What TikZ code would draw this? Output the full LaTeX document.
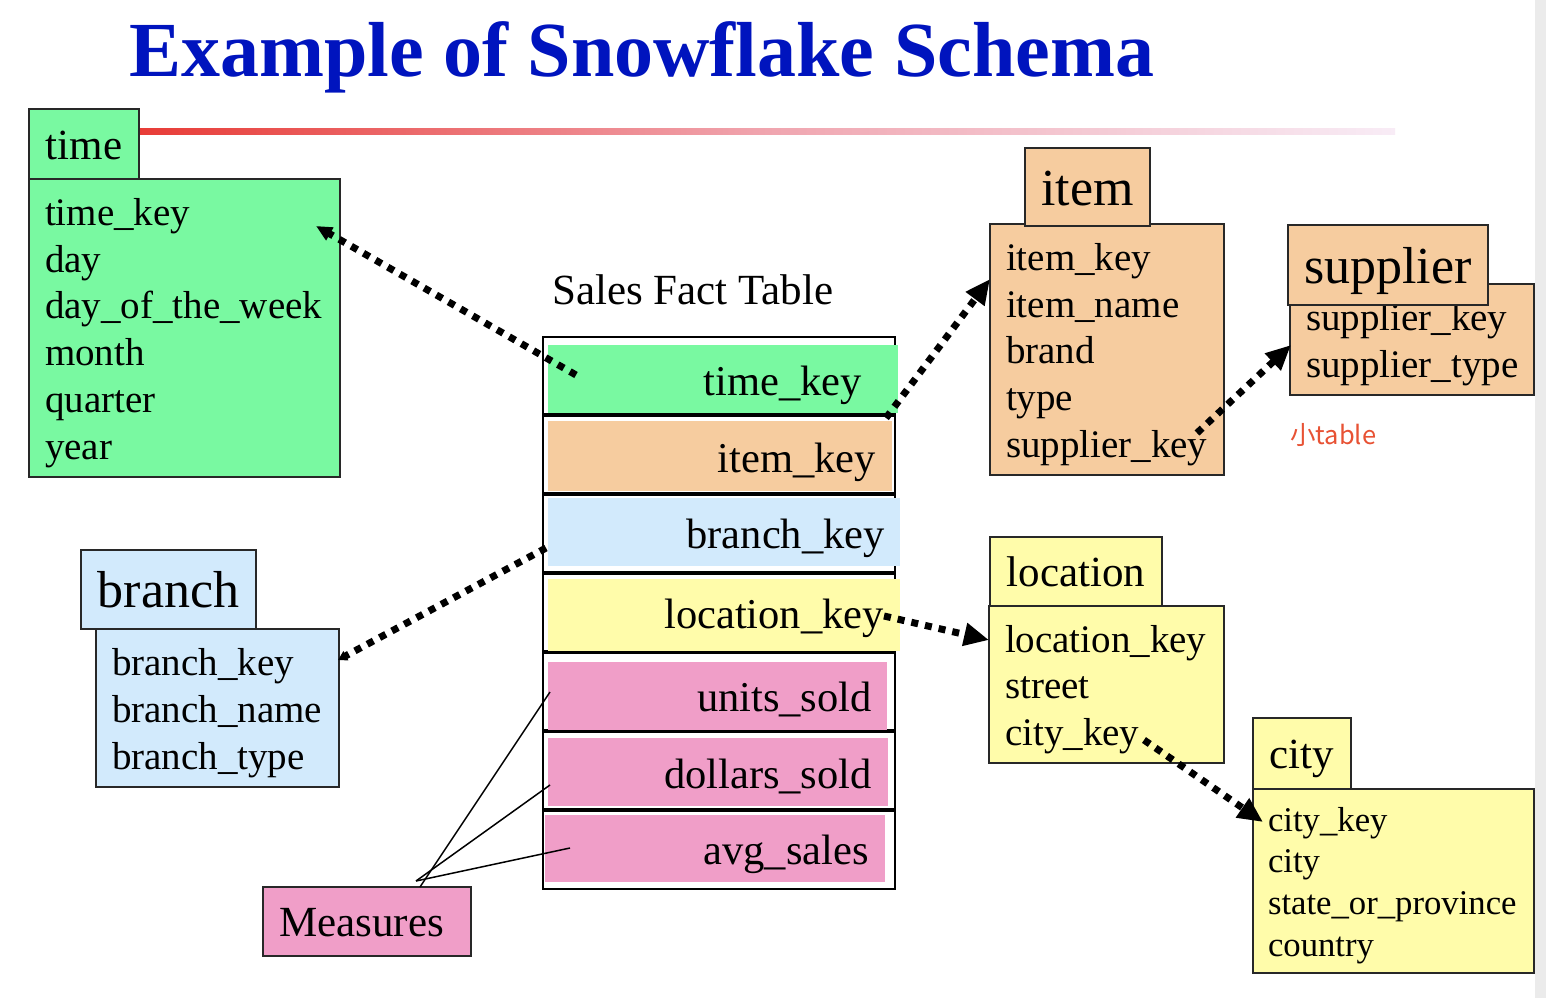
\documentclass[tikz,border=0pt]{standalone}
\usepackage{fontspec}
\setmainfont{Liberation Serif}
\newfontfamily\cjkfont{Noto Sans CJK SC}
\usetikzlibrary{arrows.meta}

\definecolor{titleblue}{RGB}{0,20,190}
\definecolor{boxline}{RGB}{40,40,40}
\definecolor{tgreen}{RGB}{121,249,161}
\definecolor{torange}{RGB}{246,204,159}
\definecolor{tblue}{RGB}{210,234,252}
\definecolor{tyellow}{RGB}{255,252,170}
\definecolor{tpink}{RGB}{240,158,200}
\definecolor{rulered}{RGB}{232,60,55}
\definecolor{rulemid}{RGB}{240,165,175}
\definecolor{rulepale}{RGB}{248,236,246}
\definecolor{notered}{RGB}{232,82,52}
\definecolor{edgegray}{RGB}{235,235,235}

\begin{document}
\begin{tikzpicture}[x=1pt,y=-1pt,
  tbl/.style={draw=boxline, line width=1.4pt, anchor=north west, inner sep=0pt, outer sep=0pt},
  hdr/.style={tbl, font=\fontsize{43}{50}\selectfont, text height=30pt, text depth=0pt},
  bighdr/.style={tbl, font=\fontsize{52}{60}\selectfont, text height=36pt, text depth=0pt},
  attrs/.style={tbl, align=left, inner xsep=16pt, font=\fontsize{39}{46.8}\selectfont,
    execute at begin node={\rule{0pt}{0.95em}}},
  factrow/.style={draw=black, line width=2pt, fill=white, anchor=north west, inner sep=0pt, minimum width=352, minimum height=77},
  factcell/.style={anchor=north west, inner sep=0pt, draw=none},
  factkey/.style={anchor=base east, inner sep=0pt, font=\fontsize{42.5}{50}\selectfont},
  fk/.style={black, line width=7pt, dash pattern=on 7pt off 7pt, -{Triangle[length=25pt,width=22pt]}},
  measureline/.style={black, line width=1.5pt}
]
\useasboundingbox (0,0) rectangle (1546,998);
\fill[white] (0,0) rectangle (1546,998);
\fill[edgegray] (1535,0) rectangle (1546,998);

% title and the fading rule under it
\node[anchor=base west, inner sep=0pt, text=titleblue, font=\fontsize{78}{90}\selectfont\bfseries] (title) at (129,77) {Example of Snowflake Schema};
\shade[left color=rulered, right color=rulepale, middle color=rulemid] (139,128) rectangle (1395,134);

% time dimension
\node[attrs, fill=tgreen, minimum width=311, minimum height=298, text width=279] (timeB) at (29,179)
  {time\_key\\day\\day\_of\_the\_week\\month\\quarter\\year};
\node[hdr, fill=tgreen, minimum width=110, minimum height=70] (timeH) at (29,109) {time};

% item dimension
\node[attrs, fill=torange, minimum width=234, minimum height=251, text width=202] (itemB) at (990,224)
  {item\_key\\item\_name\\brand\\type\\supplier\_key};
\node[bighdr, fill=torange, minimum width=125, minimum height=78] (itemH) at (1025,148) {item};

% supplier dimension
\node[attrs, fill=torange, minimum width=244, minimum height=111, text width=212, inner xsep=15pt] (supB) at (1290,284)
  {supplier\_key\\supplier\_type};
\node[bighdr, fill=torange, minimum width=200, minimum height=80] (supH) at (1288,225) {supplier};
\node[anchor=west, inner sep=0pt, text=notered, font=\cjkfont\fontsize{25.5}{30}\selectfont] (note) at (1290,435) {小table};

% branch dimension
\node[attrs, fill=tblue, minimum width=243, minimum height=158, text width=211] (branchB) at (96,629)
  {branch\_key\\branch\_name\\branch\_type};
\node[bighdr, fill=tblue, minimum width=175, minimum height=79] (branchH) at (81,550) {branch};

% location dimension
\node[attrs, fill=tyellow, minimum width=235, minimum height=157, text width=203] (locB) at (989,606)
  {location\_key\\street\\city\_key};
\node[hdr, fill=tyellow, minimum width=172, minimum height=69] (locH) at (990,537) {location};

% city dimension
\node[attrs, fill=tyellow, minimum width=281, minimum height=184, text width=251, inner xsep=15pt,
  font=\fontsize{34.7}{41.6}\selectfont] (cityB) at (1253,789)
  {city\_key\\city\\state\_or\_province\\country};
\node[hdr, fill=tyellow, minimum width=98, minimum height=71] (cityH) at (1253,718) {city};

% sales fact table
\node[anchor=base west, inner sep=0pt, font=\fontsize{43}{50}\selectfont] (factT) at (552,304) {Sales Fact Table};
\node[factrow] (r1) at (542,336) {};
\node[factrow] (r2) at (542,415) {};
\node[factrow] (r3) at (542,494) {};
\node[factrow] (r4) at (542,573) {};
\node[factrow] (r5) at (542,652) {};
\node[factrow] (r6) at (542,731) {};
\node[factrow, minimum height=78] (r7) at (542,810) {};
\node[factcell, fill=tgreen,  minimum width=350, minimum height=68] (c1) at (548,345) {};
\node[factcell, fill=torange, minimum width=344, minimum height=70] (c2) at (548,421) {};
\node[factcell, fill=tblue,   minimum width=352, minimum height=68] (c3) at (548,498) {};
\node[factcell, fill=tyellow, minimum width=352, minimum height=72] (c4) at (548,579) {};
\node[factcell, fill=tpink,   minimum width=339, minimum height=68] (c5) at (548,662) {};
\node[factcell, fill=tpink,   minimum width=340, minimum height=68] (c6) at (548,738) {};
\node[factcell, fill=tpink,   minimum width=340, minimum height=67] (c7) at (545,815) {};
\node[factkey] (k1) at (862,395) {time\_key};
\node[factkey] (k2) at (876,472) {item\_key};
\node[factkey] (k3) at (885,548) {branch\_key};
\node[factkey] (k4) at (884,628) {location\_key};
\node[factkey] (k5) at (872,711) {units\_sold};
\node[factkey] (k6) at (872,788) {dollars\_sold};
\node[factkey] (k7) at (869,864) {avg\_sales};

% measures box and its pointers
\node[hdr, fill=tpink, minimum width=208, minimum height=69] (meas) at (263,887) {\hspace*{-11pt}Measures};
\coordinate (mFoot) at (420,887);
\coordinate (mHub) at (416,881);
\coordinate (mU) at (550,692);
\coordinate (mD) at (550,785);
\coordinate (mA) at (570,848);
\draw[measureline] (mFoot) -- (mU);
\draw[measureline] (mHub) -- (mD);
\draw[measureline] (mHub) -- (mA);

% foreign key links
\coordinate (aTimeS) at (576,375);  \coordinate (aTimeE) at (316,226);
\coordinate (aItemS) at (886,418);  \coordinate (aItemE) at (990,279);
\coordinate (aSupS)  at (1197,433); \coordinate (aSupE)  at (1291,345);
\coordinate (aBrS)   at (546,548);  \coordinate (aBrE)   at (338,660);
\coordinate (aLocS)  at (884,616);  \coordinate (aLocE)  at (989,640);
\coordinate (aCityS) at (1144,740); \coordinate (aCityE) at (1263,822);
\draw[fk, -{Triangle[length=16pt,width=14pt]}] (aTimeS) -- (aTimeE);
\draw[fk] (aItemS) -- (aItemE);
\draw[fk] (aSupS) -- (aSupE);
\draw[fk, -{Triangle[length=9pt,width=10pt]}] (aBrS) -- (aBrE);
\draw[fk] (aLocS) -- (aLocE);
\draw[fk] (aCityS) -- (aCityE);
\end{tikzpicture}
\end{document}
